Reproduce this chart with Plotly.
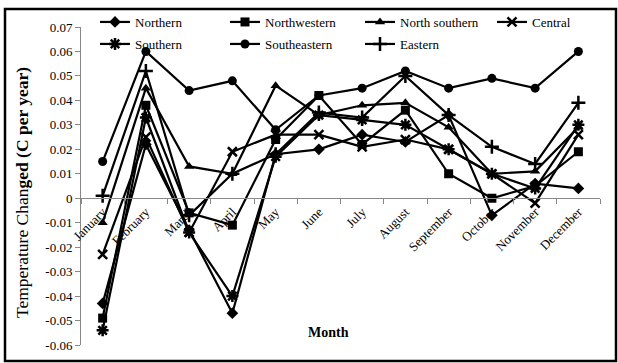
import plotly.graph_objects as go

months = ["January", "February", "March", "April", "May", "June", "July",
          "August", "September", "October", "November", "December"]

northern = [-0.043, 0.022, -0.013, -0.047, 0.018, 0.020, 0.026, 0.023, 0.034, -0.007, 0.006, 0.004]
northwestern = [-0.049, 0.038, -0.006, -0.011, 0.024, 0.042, 0.022, 0.036, 0.010, 0.000, 0.005, 0.019]
north_southern = [-0.010, 0.045, 0.013, 0.010, 0.046, 0.034, 0.038, 0.039, 0.029, 0.010, 0.011, 0.029]
central = [-0.023, 0.025, -0.014, 0.019, 0.026, 0.026, 0.021, 0.024, 0.020, 0.010, -0.002, 0.026]
southern = [-0.054, 0.033, -0.014, -0.040, 0.017, 0.034, 0.032, 0.030, 0.020, 0.010, 0.004, 0.030]
southeastern = [0.015, 0.060, 0.044, 0.048, 0.028, 0.042, 0.045, 0.052, 0.045, 0.049, 0.045, 0.060]
eastern = [0.001, 0.052, -0.007, 0.010, 0.018, 0.035, 0.033, 0.050, 0.034, 0.021, 0.014, 0.039]

y_tick_vals = [0.07, 0.06, 0.05, 0.04, 0.03, 0.02, 0.01, 0, -0.01, -0.02, -0.03, -0.04, -0.05, -0.06]
y_tick_text = ["0.07", "0.06", "0.05", "0.04", "0.03", "0.02", "0.01", "0",
               "-0.01", "-0.02", "-0.03", "-0.04", "-0.05", "-0.06"]

FONT = "Liberation Serif"

series = [
    ("Northern", northern, dict(symbol="diamond", size=9)),
    ("Northwestern", northwestern, dict(symbol="square", size=9)),
    ("North southern", north_southern, dict(symbol="triangle-up", size=9)),
    ("Central", central, dict(symbol="x-thin-open", size=9, line=dict(width=2.5, color="black"))),
    ("Southern", southern, dict(symbol="asterisk-open", size=10, line=dict(width=2.5, color="black"))),
    ("Southeastern", southeastern, dict(symbol="circle", size=9)),
    ("Eastern", eastern, dict(symbol="cross-thin-open", size=10, line=dict(width=2.5, color="black"))),
]

W, H = 618, 363
ml, mr, mt, mb = 81, 18, 27, 18
y_lo, y_hi = -0.06, 0.07
zero_pos = (0 - y_lo) / (y_hi - y_lo)
pw, ph = W - ml - mr, H - mt - mb

# legend grid: 4 columns x 2 rows, each entry placed in its own legend box
legend_cols_px = [95, 225, 360, 492]
legend_rows_px = [22, 44]

fig = go.Figure()
legend_layout = {}
for i, (name, vals, mk) in enumerate(series):
    key = "legend" if i == 0 else f"legend{i + 1}"
    fig.add_trace(go.Scatter(
        x=months, y=vals, name=name, mode="lines+markers",
        line=dict(color="black", width=2.2),
        marker=dict(color="black", **mk),
        legend=key,
    ))
    col, row = i % 4, i // 4
    legend_layout[key] = dict(
        xref="container", yref="container",
        x=legend_cols_px[col] / W, y=1 - legend_rows_px[row] / H,
        xanchor="left", yanchor="middle",
        bgcolor="rgba(0,0,0,0)", font=dict(family=FONT, size=13),
        itemwidth=30, borderwidth=0,
    )

fig.update_layout(
    width=W, height=H,
    margin=dict(l=ml, r=mr, t=mt, b=mb, pad=0, autoexpand=False),
    paper_bgcolor="white", plot_bgcolor="white",
    font=dict(family=FONT, size=13, color="black"),
    showlegend=True,
    **legend_layout,
    xaxis=dict(
        type="category", range=[-0.5, 11.5],
        anchor="free", position=zero_pos,
        showline=True, linecolor="#888888", linewidth=1,
        ticks="outside", ticklen=5, tickcolor="#888888",
        tickson="boundaries",
        tickangle=-45, tickfont=dict(family=FONT, size=13),
        showgrid=False, zeroline=False,
    ),
    yaxis=dict(
        range=[y_lo, y_hi],
        tickvals=y_tick_vals, ticktext=y_tick_text,
        showline=True, linecolor="#888888", linewidth=1,
        ticks="outside", ticklen=5, tickcolor="#888888",
        tickfont=dict(family=FONT, size=13),
        showgrid=False, zeroline=False,
    ),
    annotations=[
        dict(text="<b>Month</b>", xref="paper", yref="paper",
             x=(328 - ml) / pw, y=-(332 - (H - mb)) / ph,
             showarrow=False, font=dict(family=FONT, size=14), xanchor="center", yanchor="middle"),
        dict(text="Temperature Chan<b>ged (C per year)</b>", xref="paper", yref="paper",
             x=(22 - ml) / pw, y=0.5 - (193 - (mt + ph / 2)) / ph,
             textangle=-90, showarrow=False, font=dict(family=FONT, size=17.5),
             xanchor="center", yanchor="middle"),
    ],
)

# outer frame around the whole figure
fig.add_shape(type="rect", xref="paper", yref="paper",
              x0=(5 - ml) / pw, x1=(616 - ml) / pw,
              y0=-(361 - (H - mb)) / ph, y1=1 + (mt - 9) / ph,
              line=dict(color="black", width=2.5), fillcolor="rgba(0,0,0,0)", layer="below")

fig.write_html("out.html")
